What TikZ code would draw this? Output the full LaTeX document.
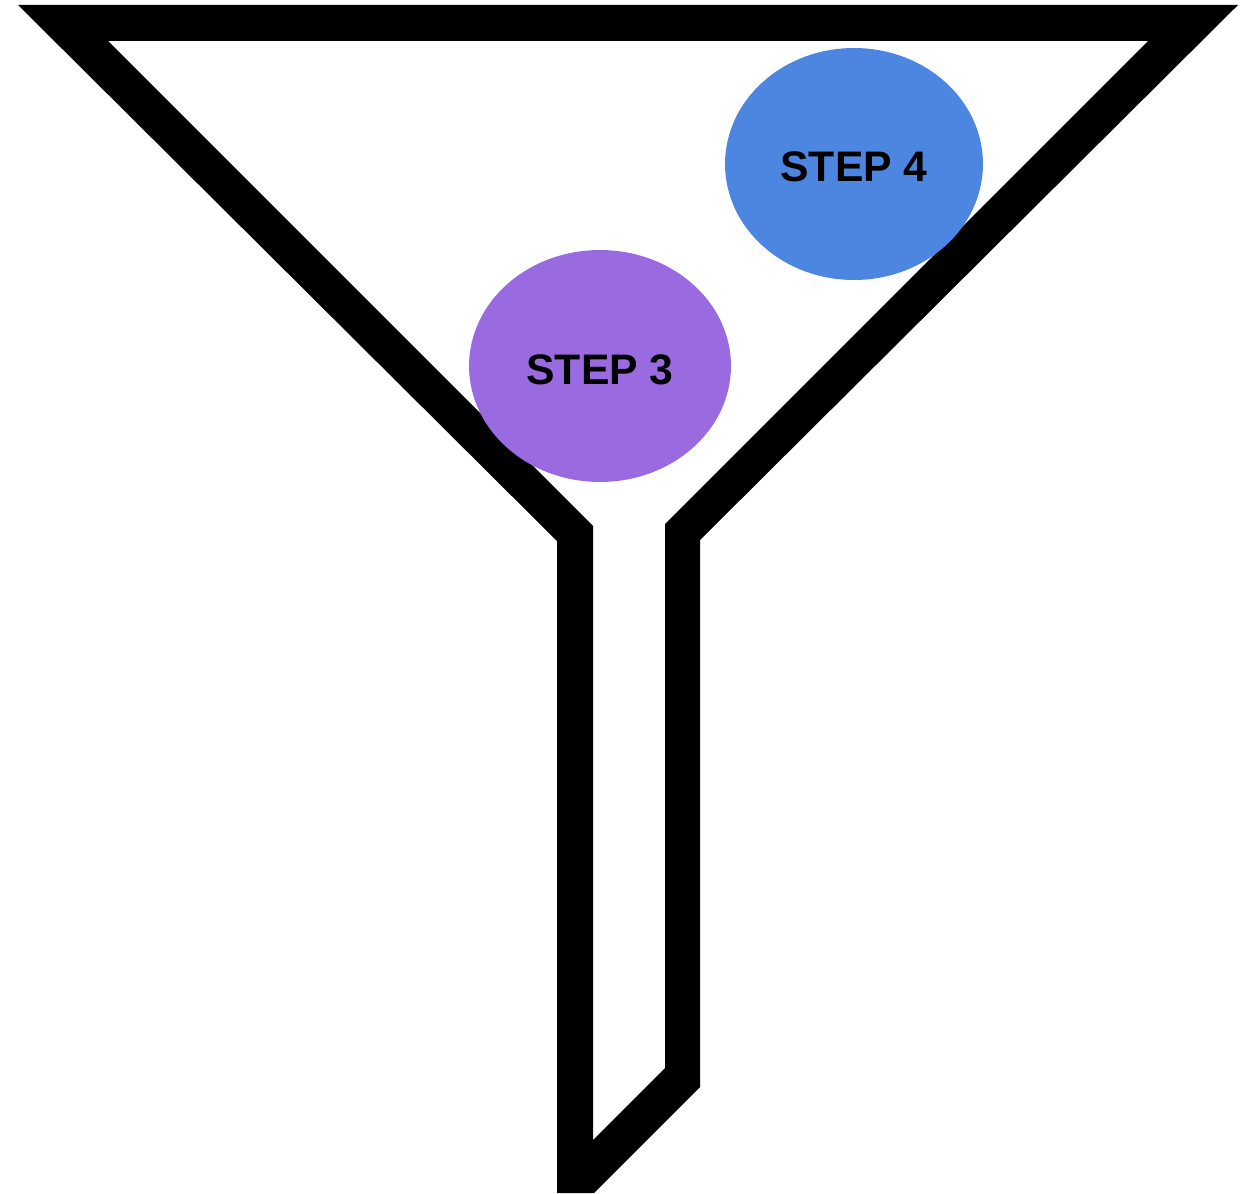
\documentclass[tikz,border=0pt]{standalone}
\usepackage{fontspec}
\setmainfont{Liberation Sans}
\usetikzlibrary{shapes.geometric}
\definecolor{stepblue}{HTML}{4C86E0}
\definecolor{steppurple}{HTML}{9A6BE0}
\tikzset{
  funnel/.style={fill=black, even odd rule},
  stepdisc/.style={ellipse, inner sep=0pt, minimum width=5.24cm, minimum height=4.64cm,
    text height=0.72cm, text depth=0pt,
    font=\fontsize{24.3}{28}\selectfont\bfseries, text=black}
}
\begin{document}
\begin{tikzpicture}[x=0.02cm, y=-0.02cm]
  \useasboundingbox (0,0) rectangle (1256,1193);
  % funnel outline: outer contour and inner hole
  \path[funnel]
    (18,5) -- (1238,5) -- (700,540) -- (700,1087) -- (594,1193) -- (557,1193) -- (557,541) -- cycle
    (108,41) -- (1148,41) -- (665,524) -- (665,1068) -- (593,1140) -- (593,526) -- cycle;
  % step discs
  \node[stepdisc, fill=steppurple] (step3) at (600,366) {STEP 3};
  \node[stepdisc, fill=stepblue, minimum width=5.16cm] (step4) at (854,164) {STEP 4};
\end{tikzpicture}
\end{document}
